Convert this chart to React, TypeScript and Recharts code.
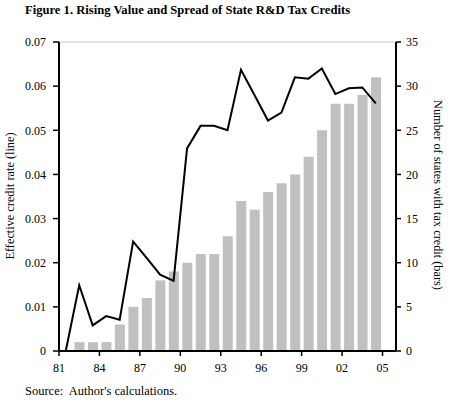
import React from 'react';
import { ComposedChart, Bar, Line, XAxis, YAxis, ReferenceLine } from 'recharts';

const years = [1981, 1982, 1983, 1984, 1985, 1986, 1987, 1988, 1989, 1990, 1991, 1992, 1993, 1994, 1995, 1996, 1997, 1998, 1999, 2000, 2001, 2002, 2003, 2004];
const creditRate = [0, 0.0149, 0.0058, 0.0079, 0.0071, 0.0248, 0.0211, 0.0173, 0.0159, 0.0459, 0.051, 0.051, 0.05, 0.0637, 0.058, 0.0522, 0.054, 0.062, 0.0617, 0.064, 0.0582, 0.0595, 0.0597, 0.0561];
const statesWithCredit = [0, 1, 1, 1, 3, 5, 6, 8, 9, 10, 11, 11, 13, 17, 16, 18, 19, 20, 22, 25, 28, 28, 29, 31];
const xTickLabels = ['81', '84', '87', '90', '93', '96', '99', '02', '05'];
const leftTicks = [0, 0.01, 0.02, 0.03, 0.04, 0.05, 0.06, 0.07];
const rightTicks = [0, 5, 10, 15, 20, 25, 30, 35];

const firstYear = years[0];
const data = years.map((y, i) => ({
  x: y - firstYear + 0.5,
  rate: creditRate[i],
  states: statesWithCredit[i] === 0 ? null : statesWithCredit[i],
}));
const xTicks = xTickLabels.map((_, i) => i * 3);
const xDomainMax = years.length + 1;

const FONT = '"Liberation Serif", "Times New Roman", serif';
const tickStyle = { fontFamily: FONT, fontSize: 12, fill: '#000' };

export default function App() {
  return (
    <div style={{ position: 'absolute', left: 0, top: 0, width: 450, height: 403, background: '#fff', fontFamily: FONT, color: '#000' }}>
      <div style={{ position: 'absolute', left: 25, top: 3, fontSize: 12.6, lineHeight: '14px', fontWeight: 'bold', whiteSpace: 'nowrap' }}>
        Figure 1. Rising Value and Spread of State R&amp;D Tax Credits
      </div>
      <ComposedChart
        width={450}
        height={403}
        data={data}
        margin={{ top: 42, right: 0, bottom: 0, left: 0 }}
      >
        <XAxis
          xAxisId="x"
          dataKey="x"
          type="number"
          domain={[0, xDomainMax]}
          ticks={xTicks}
          tickFormatter={(v: number) => xTickLabels[Math.round(v / 3)]}
          height={52}
          tick={tickStyle}
          tickSize={5}
          tickMargin={7}
          axisLine={{ stroke: '#000', strokeWidth: 2 }}
          tickLine={{ stroke: '#000', strokeWidth: 1.5 }}
          interval={0}
          allowDataOverflow
        />
        <YAxis
          yAxisId="left"
          orientation="left"
          width={59}
          domain={[0, 0.07]}
          ticks={leftTicks}
          tickFormatter={(v: number) => (v === 0 ? '0' : v.toFixed(2))}
          tick={tickStyle}
          tickSize={6}
          tickMargin={7}
          axisLine={{ stroke: '#000', strokeWidth: 2 }}
          tickLine={{ stroke: '#000', strokeWidth: 1.5 }}
          interval={0}
        />
        <YAxis
          yAxisId="right"
          orientation="right"
          width={54}
          domain={[0, 35]}
          ticks={rightTicks}
          tick={tickStyle}
          tickSize={5}
          tickMargin={5}
          axisLine={{ stroke: '#000', strokeWidth: 2 }}
          tickLine={{ stroke: '#000', strokeWidth: 1.5 }}
          interval={0}
        />
        <ReferenceLine yAxisId="left" xAxisId="x" y={0.07} stroke="#c8c8c8" strokeWidth={1} />
        <Bar xAxisId="x" yAxisId="right" dataKey="states" fill="#c0c0c0" barSize={10} isAnimationActive={false} />
        <Line xAxisId="x" yAxisId="left" dataKey="rate" type="linear" stroke="#000" strokeWidth={2} dot={false} isAnimationActive={false} />
      </ComposedChart>
      <div style={{ position: 'absolute', left: 10, top: 196, transform: 'translate(-50%, -50%) rotate(-90deg)', fontSize: 12.3, lineHeight: '14px', whiteSpace: 'nowrap' }}>
        Effective credit rate (line)
      </div>
      <div style={{ position: 'absolute', left: 438, top: 195, transform: 'translate(-50%, -50%) rotate(90deg)', fontSize: 12.3, lineHeight: '14px', whiteSpace: 'nowrap' }}>
        Number of states with tax credit (bars)
      </div>
      <div style={{ position: 'absolute', left: 25, top: 384, fontSize: 12.5, lineHeight: '14px', whiteSpace: 'pre' }}>
        {'Source:  Author\'s calculations.'}
      </div>
    </div>
  );
}
